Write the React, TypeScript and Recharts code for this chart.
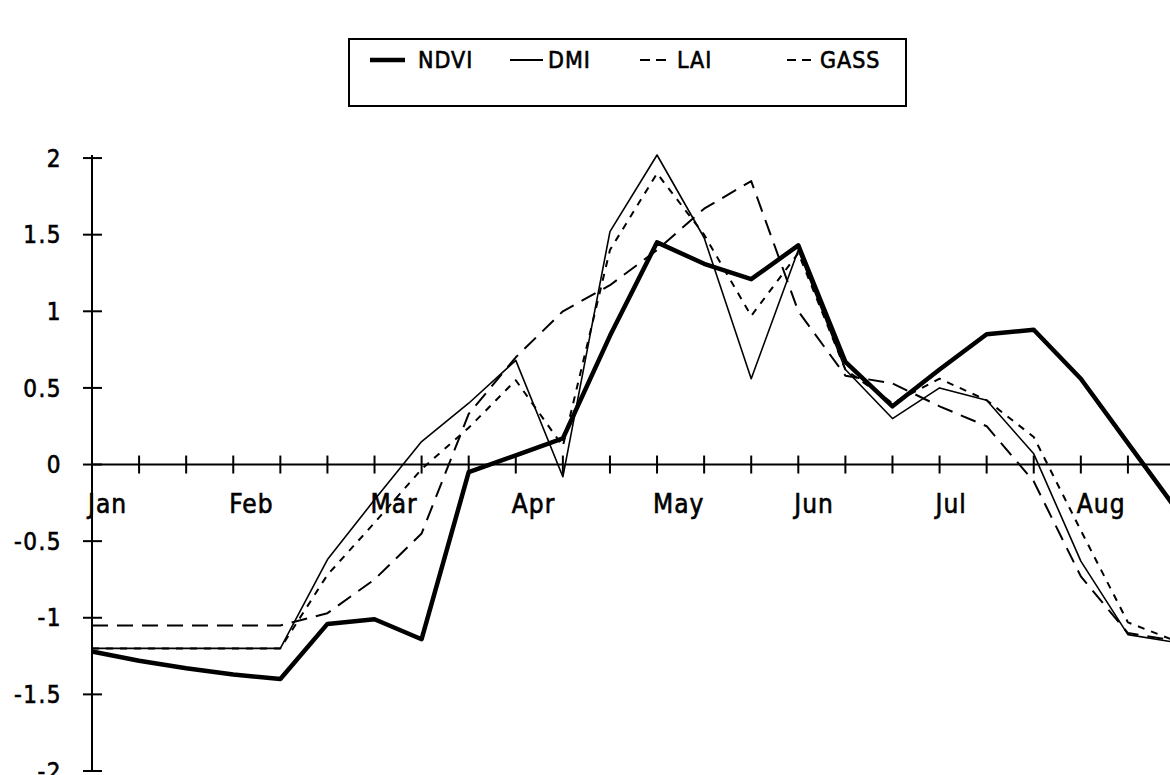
import React from 'react';
import { LineChart, Line, XAxis, YAxis, ReferenceLine, ReferenceDot, Legend } from 'recharts';

// dekad index (3 per month), Jan dekad 1 .. Aug dekad 3
const dekadIndex = [0, 1, 2, 3, 4, 5, 6, 7, 8, 9, 10, 11, 12, 13, 14, 15, 16, 17, 18, 19, 20, 21, 22, 23];
const monthLabels = ['Jan', 'Feb', 'Mar', 'Apr', 'May', 'Jun', 'Jul', 'Aug'];
const yTicks = [-2, -1.5, -1, -0.5, 0, 0.5, 1, 1.5, 2];

const ndvi = [-1.22, -1.28, -1.33, -1.37, -1.4, -1.04, -1.01, -1.14, -0.05, 0.06, 0.17, 0.84, 1.45, 1.31, 1.21, 1.43, 0.67, 0.38, 0.62, 0.85, 0.88, 0.56, 0.14, -0.28];
const dmi = [-1.2, -1.2, -1.2, -1.2, -1.2, -0.62, -0.23, 0.15, 0.4, 0.68, -0.08, 1.52, 2.02, 1.48, 0.56, 1.4, 0.62, 0.3, 0.5, 0.42, 0.07, -0.63, -1.11, -1.16];
const lai = [-1.05, -1.05, -1.05, -1.05, -1.05, -0.97, -0.75, -0.45, 0.33, 0.7, 1.0, 1.17, 1.4, 1.67, 1.85, 1.0, 0.58, 0.53, 0.38, 0.25, -0.11, -0.73, -1.1, -1.15];
const gass = [-1.2, -1.2, -1.2, -1.2, -1.2, -0.72, -0.38, -0.03, 0.24, 0.55, 0.12, 1.4, 1.9, 1.5, 0.97, 1.38, 0.62, 0.4, 0.56, 0.42, 0.18, -0.43, -1.03, -1.15];

const data = dekadIndex.map((d, i) => ({ d, NDVI: ndvi[i], DMI: dmi[i], LAI: lai[i], GASS: gass[i] }));

const FONT = '"DejaVu Sans Condensed", "DejaVu Sans", sans-serif';

const seriesStyle: Record<string, { width: number; dash?: string }> = {
  NDVI: { width: 4.5 },
  DMI: { width: 1.6 },
  LAI: { width: 2, dash: '16 9' },
  GASS: { width: 2, dash: '7 7' },
};

const legendLayout: Record<string, { x0: number; x1: number; tx: number; dash?: string }> = {
  NDVI: { x0: 22, x1: 57, tx: 70 },
  DMI: { x0: 162, x1: 195, tx: 200 },
  LAI: { x0: 292, x1: 320, tx: 329, dash: '10 6' },
  GASS: { x0: 439, x1: 464, tx: 472, dash: '9 6' },
};

const YTick = (props: any) => {
  const { x, y, payload } = props;
  return (
    <g>
      <line x1={x - 9} x2={x + 10} y1={y} y2={y} stroke="#000" strokeWidth={2} />
      <text x={x - 30} y={y} dy="0.36em" textAnchor="end" fontFamily={FONT} fontSize={24} letterSpacing={1.5} fill="#000" stroke="#000" strokeWidth={0.6}>
        {String(payload.value)}
      </text>
    </g>
  );
};

const dekadTick = (label?: string) => (p: any) => (
  <g>
    <line x1={p.cx} x2={p.cx} y1={p.cy - 9} y2={p.cy + 9} stroke="#000" strokeWidth={2} />
    {label ? (
      <text x={p.cx - 4} y={p.cy + 48} fontFamily={FONT} fontSize={26} letterSpacing={1} fill="#000" stroke="#000" strokeWidth={0.6}>
        {label}
      </text>
    ) : null}
  </g>
);

const LegendBox = (props: any) => {
  const payload = props.payload || [];
  return (
    <svg width={562} height={72}>
      <rect x={1} y={1} width={557} height={67} fill="#fff" stroke="#000" strokeWidth={2} />
      {payload.map((e: any) => {
        const name = String(e.value);
        const l = legendLayout[name];
        if (!l) return null;
        return (
          <g key={name}>
            <line x1={l.x0} x2={l.x1} y1={22} y2={22} stroke="#000" strokeWidth={name === 'NDVI' ? 4.5 : 1.8} strokeDasharray={l.dash} />
            <text x={l.tx} y={30} fontFamily={FONT} fontSize={23} letterSpacing={1} fill="#000" stroke="#000" strokeWidth={0.6}>{name}</text>
          </g>
        );
      })}
    </svg>
  );
};

export default function App() {
  return (
    <div style={{ position: 'absolute', left: 0, top: 0, width: 1170, height: 775, overflow: 'hidden', background: '#fff' }}>
      <LineChart width={1190} height={810} data={data} margin={{ top: 155, right: 15, bottom: 39, left: 0 }}>
        <XAxis dataKey="d" type="number" domain={[0, 23]} hide />
        <YAxis
          type="number"
          domain={[-2, 2]}
          ticks={yTicks}
          width={92}
          axisLine={{ stroke: '#000', strokeWidth: 2 }}
          tickLine={false}
          tickSize={0}
          tickMargin={0}
          tick={<YTick />}
          interval={0}
        />
        <ReferenceLine y={0} stroke="#000" strokeWidth={2} />
        {dekadIndex.map((d) => (
          <ReferenceDot
            key={'t' + d}
            x={d}
            y={0}
            r={0}
            shape={dekadTick(d % 3 === 0 ? monthLabels[d / 3] : undefined)}
          />
        ))}
        <Legend
          layout="horizontal"
          verticalAlign="middle"
          align="center"
          content={<LegendBox />}
          wrapperStyle={{ position: 'absolute', top: 38, left: 348, width: 562, height: 72 }}
        />
        {(['NDVI', 'DMI', 'LAI', 'GASS'] as const).map((k) => (
          <Line
            key={k}
            dataKey={k}
            name={k}
            type="linear"
            stroke="#000"
            strokeWidth={seriesStyle[k].width}
            strokeDasharray={seriesStyle[k].dash}
            dot={false}
            activeDot={false}
            isAnimationActive={false}
            strokeLinejoin="round"
          />
        ))}
      </LineChart>
    </div>
  );
}
